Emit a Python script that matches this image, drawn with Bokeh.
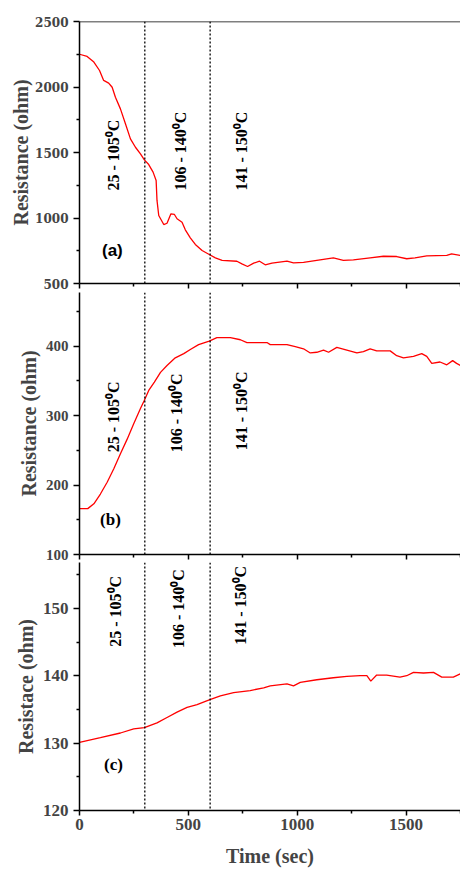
import math
from bokeh.plotting import figure
from bokeh.layouts import column
from bokeh.models import Span, FixedTicker, Range1d, CustomJSTickFormatter
from bokeh.core.properties import value
from bokeh.embed import file_html
from bokeh.resources import INLINE

# ---------------- data ----------------
time_a = [0, 35, 66, 92, 111, 134, 150, 165, 188, 211, 234, 257, 280, 298, 318,
          338, 352, 356, 364, 387, 402, 420, 436, 448, 471, 486, 509, 532, 563, 596,
          624, 655, 723, 746, 772, 800, 827, 853, 884, 953, 983, 1029, 1105, 1166, 1212,
          1258, 1335, 1396, 1457, 1503, 1541, 1595, 1687, 1709, 1750]
res_a = [2250, 2233, 2190, 2126, 2050, 2030, 1998, 1922, 1833, 1719, 1604, 1540, 1490, 1444, 1408,
         1350, 1286, 1134, 1019, 950, 960, 1032, 1027, 994, 968, 910, 849, 798, 752, 721,
         696, 676, 670, 650, 630, 655, 670, 643, 655, 670, 657, 662, 681, 696, 676,
         681, 696, 708, 706, 689, 696, 711, 714, 726, 714]

time_b = [0, 38, 66, 96, 127, 157, 188, 219, 249, 280, 298, 318, 344, 372, 402,
          440, 479, 509, 547, 596, 631, 693, 739, 769, 861, 876, 953, 991, 1029, 1060,
          1090, 1121, 1144, 1182, 1228, 1274, 1304, 1335, 1365, 1427, 1457, 1488, 1534, 1572, 1595,
          1618, 1656, 1687, 1714, 1732, 1750]
res_b = [166, 166, 173, 187, 204, 223, 245, 266, 288, 310, 322, 336, 348, 362, 372,
         383, 389, 395, 402, 407, 412, 412, 409, 405, 405, 402, 402, 399, 396, 390,
         391, 394, 391, 398, 394, 390, 392, 396, 393, 393, 386, 383, 385, 389, 385,
         375, 377, 373, 379, 375, 372]

time_c = [0, 96, 188, 249, 298, 356, 402, 448, 494, 540, 596, 647, 708, 784, 846,
          876, 953, 983, 1014, 1090, 1166, 1228, 1289, 1320, 1338, 1365, 1411, 1472, 1503, 1534,
          1580, 1626, 1664, 1717, 1750]
res_c = [130.1, 130.8, 131.5, 132.1, 132.3, 133.0, 133.8, 134.6, 135.3, 135.7, 136.4, 137.0, 137.5, 137.8, 138.2,
         138.5, 138.8, 138.5, 139.0, 139.4, 139.7, 139.9, 140.0, 140.0, 139.2, 140.1, 140.1, 139.8, 140.0, 140.5,
         140.4, 140.5, 139.8, 139.8, 140.3]

x_ticks = [0, 500, 1000, 1500]
x_minor = [250, 750, 1250, 1750]
ticks_a = [500, 1000, 1500, 2000, 2500]
minor_a = [750, 1250, 1750, 2250]
ticks_b = [100, 200, 300, 400]
minor_b = [150, 250, 350, 450]
ticks_c = [120, 130, 140, 150]
minor_c = [125, 135, 145, 155]
boundaries = [300, 600]
range_labels = ["25 - 105\u2070C", "106 - 140\u2070C", "141 - 150\u2070C"]
panel_labels = ["(a)", "(b)", "(c)"]
y_titles = ["Resistance (ohm)", "Resistance (ohm)", "Resistace (ohm)"]
x_title = "Time (sec)"

SERIF = "Liberation Serif"


def make_panel(xs, ys, yr, yticks, yminor, ytitle, tick_font, tick_size, ytitle_standoff,
               height, top, bottom, show_x_labels):
    p = figure(width=460, height=height, x_range=Range1d(0, 1750), y_range=Range1d(*yr),
               output_backend="svg", toolbar_location=None,
               min_border_left=79, min_border_right=0,
               min_border_top=top, min_border_bottom=bottom)
    p.outline_line_color = None
    p.grid.visible = False
    p.background_fill_color = "white"
    p.border_fill_color = "white"

    p.line(xs, ys, line_color="#ff0000", line_width=1.3)
    for b in boundaries:
        p.add_layout(Span(location=b, dimension="height", line_color="black",
                          line_width=1.3, line_dash="2 2"))

    ya = p.yaxis[0]
    ya.ticker = FixedTicker(ticks=yticks, minor_ticks=yminor)
    ya.axis_label = ytitle
    ya.axis_label_text_font = SERIF
    ya.axis_label_text_font_style = "bold"
    ya.axis_label_text_font_size = "20px"
    ya.axis_label_standoff = ytitle_standoff
    ya.major_label_text_font = tick_font
    ya.major_label_text_font_style = "bold"
    ya.major_label_text_font_size = tick_size
    ya.major_label_standoff = 5
    ya.axis_line_width = 1.5
    ya.major_tick_line_width = 1.5
    ya.minor_tick_line_width = 1.5
    ya.major_tick_in = 0
    ya.major_tick_out = 6
    ya.minor_tick_in = 0
    ya.minor_tick_out = 3

    xa = p.xaxis[0]
    xa.ticker = FixedTicker(ticks=x_ticks, minor_ticks=x_minor)
    xa.axis_line_width = 1.5
    xa.major_tick_line_width = 1.5
    xa.minor_tick_line_width = 1.5
    xa.major_tick_in = 0
    xa.major_tick_out = 5
    xa.minor_tick_in = 0
    xa.minor_tick_out = 3
    if show_x_labels:
        xa.major_label_text_font = SERIF
        xa.major_label_text_font_style = "bold"
        xa.major_label_text_font_size = "17px"
        xa.major_label_standoff = 3
        xa.axis_label = x_title
        xa.axis_label_text_font = SERIF
        xa.axis_label_text_font_style = "bold"
        xa.axis_label_text_font_size = "20px"
        xa.axis_label_standoff = 12
    else:
        xa.formatter = CustomJSTickFormatter(code="return '';")
        xa.major_label_standoff = 0
    return p


pa = make_panel(time_a, res_a, (500, 2500), ticks_a, minor_a, y_titles[0],
                "DejaVu Serif", "12px", 0, 292, 21, 9, False)
pb = make_panel(time_b, res_b, (100, 477), ticks_b, minor_b, y_titles[1],
                SERIF, "15px", 3, 270, 0, 8, False)
pc = make_panel(time_c, res_c, (120, 156.8), ticks_c, minor_c, y_titles[2],
                SERIF, "17px", 3, 307, 0, 57, True)

pa.add_layout(Span(location=2500, dimension="width", line_color="black", line_width=1.5))

# range annotations (x centre, y start) and panel letters
ann = [
    (pa, [156, 463, 743], [1210, 1210, 1210], (151, 752), "Liberation Sans"),
    (pb, [156, 445, 743], [247, 247, 250], (142, 150), SERIF),
    (pc, [165, 454, 739], [144.3, 144.1, 144.6], (156, 126.8), SERIF),
]
for (p, ax, ay, (lx, ly), lfont), lab in zip(ann, panel_labels):
    p.text(x=ax, y=ay, text=range_labels, angle=math.pi / 2,
           text_align="left", text_baseline="middle",
           text_font=value(SERIF), text_font_style="bold",
           text_font_size="16px", text_color="black")
    p.text(x=[lx], y=[ly], text=[lab], text_align="center", text_baseline="middle",
           text_font=value(lfont), text_font_style="bold",
           text_font_size="17px", text_color="black")

layout = column(pa, pb, pc, spacing=0)
open("out.html", "w").write(file_html(layout, INLINE))
